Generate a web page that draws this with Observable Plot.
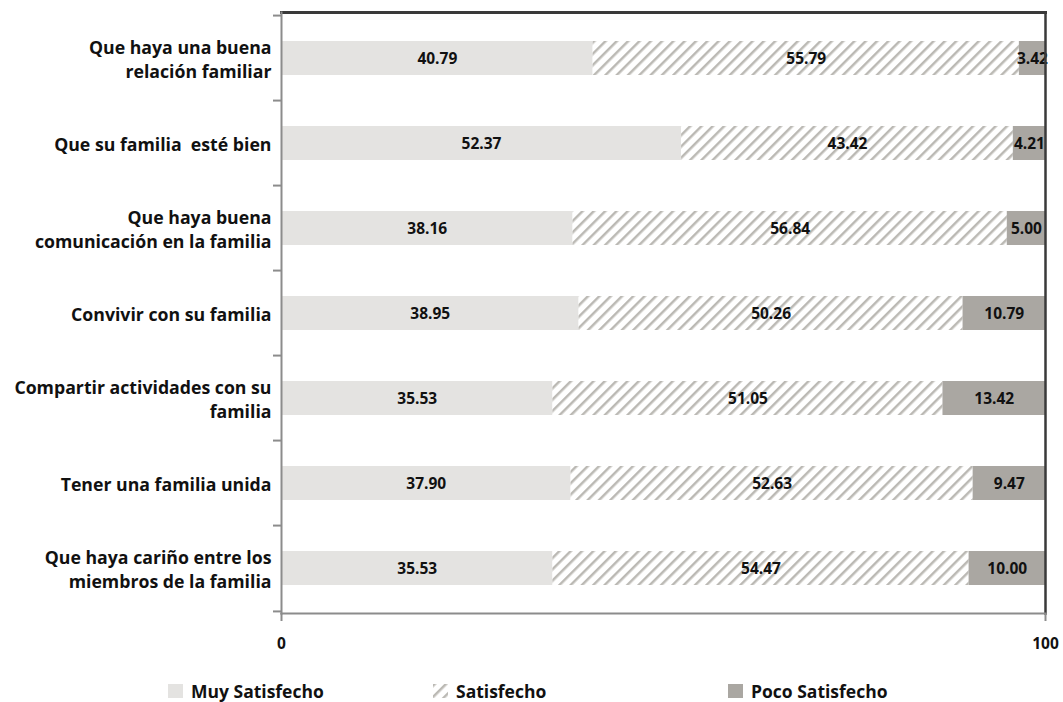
<!DOCTYPE html>
<html>
<head>
<meta charset="utf-8">
<script src="https://cdn.jsdelivr.net/npm/d3@7"></script>
<script src="https://cdn.jsdelivr.net/npm/@observablehq/plot@0.6"></script>
<style>
  html, body { margin: 0; padding: 0; background: #fff; }
  #wrap { position: relative; width: 1063px; height: 702px; font-family: "Open Sans", Lato, sans-serif; }
  #chart svg { display: block; }
  #legend { position: absolute; top: 679px; left: 0; width: 1063px; height: 24px; font-weight: bold; font-size: 17.5px; color: #111; }
  .li { position: absolute; top: 0; display: flex; align-items: center; gap: 8px; line-height: 24px; }
  .li svg { display: block; }
</style>
</head>
<body>
<div id="wrap">
  <div id="chart"></div>
  <div id="legend"></div>
</div>
<script>
const categories = [
  "Que haya una buena\nrelación familiar",
  "Que su familia  esté bien",
  "Que haya buena\ncomunicación en la familia",
  "Convivir con su familia",
  "Compartir actividades con su\nfamilia",
  "Tener una familia unida",
  "Que haya cariño entre los\nmiembros de la familia"
];
const series = ["Muy Satisfecho", "Satisfecho", "Poco Satisfecho"];
const muySatisfecho = [40.79, 52.37, 38.16, 38.95, 35.53, 37.90, 35.53];
const satisfecho = [55.79, 43.42, 56.84, 50.26, 51.05, 52.63, 54.47];
const pocoSatisfecho = [3.42, 4.21, 5.00, 10.79, 13.42, 9.47, 10.00];
const xTicks = [0, 100];

const seriesValues = [muySatisfecho, satisfecho, pocoSatisfecho];
const data = [];
categories.forEach((c, i) => {
  series.forEach((s, j) => data.push({cat: c, serie: s, value: seriesValues[j][i]}));
});

const fills = ["#e4e3e1", "url(#hatch)", "#aaa7a2"];
const font = "'Open Sans', Lato, sans-serif";

const W = 1063, H = 662;
const mTop = 12, mBottom = H - 613, mLeft = 281, mRight = 1063 - 1045;
const step = (H - mTop - mBottom) / categories.length;

const plot = Plot.plot({
  width: W,
  height: H,
  marginTop: mTop,
  marginBottom: mBottom,
  marginLeft: mLeft,
  marginRight: mRight,
  style: {fontFamily: font, fontSize: "17.5px", fontWeight: "bold", color: "#111", background: "#fff", overflow: "visible"},
  x: {domain: [0, 100], label: null},
  y: {domain: categories, paddingInner: 0.6, paddingOuter: 0.3, label: null},
  color: {domain: series, range: fills},
  marks: [
    Plot.barX(data, Plot.stackX({x: "value", y: "cat", fill: "serie", order: series})),
    Plot.text(data, Plot.stackX({x: "value", y: "cat", z: "serie", order: series, dy: 1,
      text: d => d.value.toFixed(2), fill: "#111", fontSize: 15.5, fontWeight: "bold", fontFamily: font})),
    // frame: dark top/right, gray left/bottom
    Plot.frame({anchor: "top", stroke: "#3a3a3a", strokeWidth: 3}),
    Plot.frame({anchor: "right", stroke: "#3a3a3a", strokeWidth: 2.5}),
    Plot.frame({anchor: "left", stroke: "#8c8c8c", strokeWidth: 2}),
    Plot.frame({anchor: "bottom", stroke: "#8c8c8c", strokeWidth: 2}),
    // y axis: labels at centers, ticks at band boundaries
    Plot.axisY({tickSize: 0, tickPadding: 10, fontSize: 17.7, fontWeight: "bold", lineHeight: 1.35, fill: "#111", label: null}),
    Plot.axisY({tickSize: 8, text: null, dy: -step / 2, stroke: "#8c8c8c", strokeWidth: 2, label: null}),
    Plot.axisY([categories[categories.length - 1]], {tickSize: 8, text: null, dy: step / 2, stroke: "#8c8c8c", strokeWidth: 2, label: null}),
    // x axis
    Plot.axisX(xTicks, {tickSize: 8, tickPadding: 16, stroke: "#8c8c8c", strokeWidth: 2, fontSize: 15.5, fontWeight: "bold", fill: "#111", label: null})
  ]
});

// hatch pattern
const ns = "http://www.w3.org/2000/svg";
function addHatch(svg, id) {
  const defs = document.createElementNS(ns, "defs");
  defs.innerHTML = `<pattern id="${id}" patternUnits="userSpaceOnUse" width="8" height="8" patternTransform="rotate(45)">
    <rect width="8" height="8" fill="#fff"/>
    <line x1="0" y1="0" x2="0" y2="8" stroke="#bbb9b4" stroke-width="5"/>
  </pattern>`;
  svg.insertBefore(defs, svg.firstChild);
}
addHatch(plot, "hatch");
document.getElementById("chart").appendChild(plot);

// legend
const legend = document.getElementById("legend");
const lx = [168, 433, 728];
series.forEach((s, i) => {
  const item = document.createElement("div");
  item.className = "li";
  item.style.left = lx[i] + "px";
  const sw = document.createElementNS(ns, "svg");
  sw.setAttribute("width", 15); sw.setAttribute("height", 14);
  if (i === 1) addHatch(sw, "hatchL");
  const r = document.createElementNS(ns, "rect");
  r.setAttribute("width", 15); r.setAttribute("height", 14);
  r.setAttribute("fill", i === 1 ? "url(#hatchL)" : fills[i]);
  sw.appendChild(r);
  item.appendChild(sw);
  const t = document.createElement("span");
  t.textContent = s;
  item.appendChild(t);
  legend.appendChild(item);
});
</script>
</body>
</html>
